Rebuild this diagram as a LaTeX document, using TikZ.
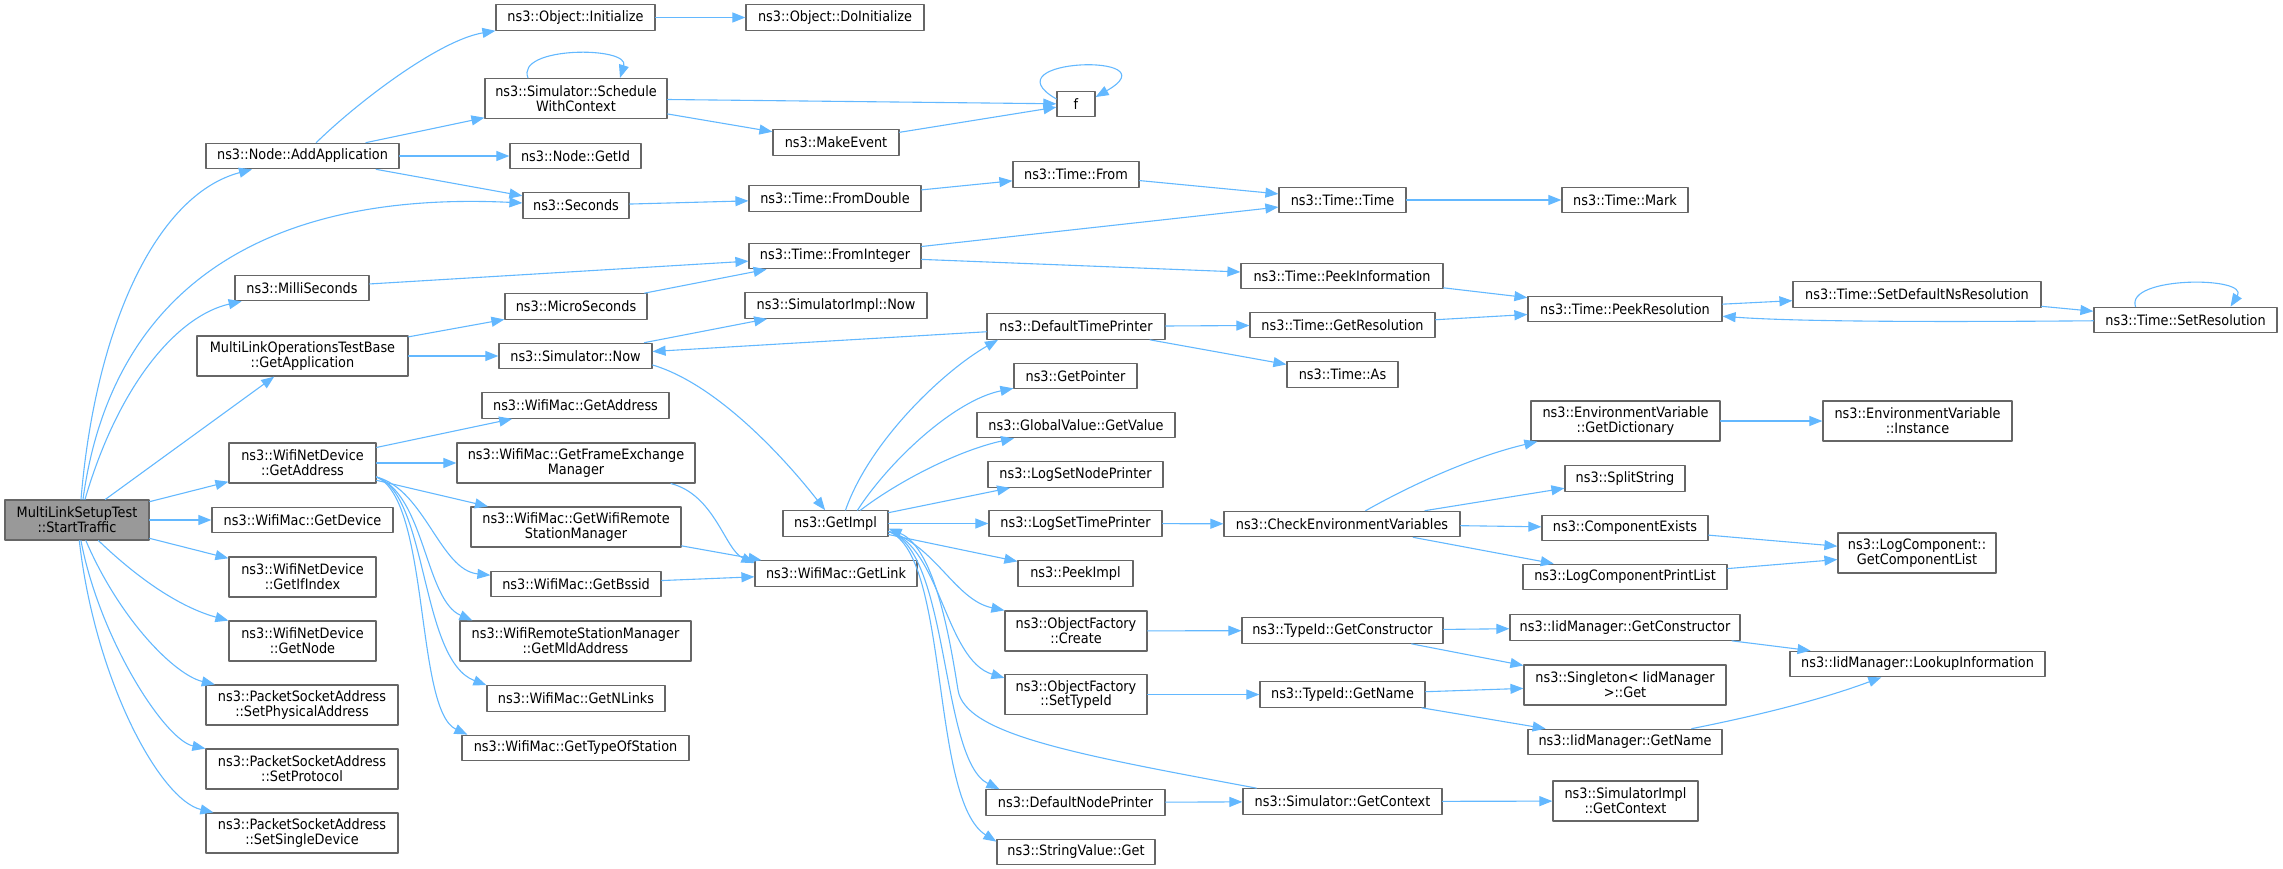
\documentclass[tikz,border=0pt]{standalone}
\usepackage{fontspec}
\setmainfont{DejaVu Sans}[FakeStretch=0.9]
\usetikzlibrary{arrows.meta}
\definecolor{edgeblue}{HTML}{63B8FF}
\definecolor{boxline}{HTML}{666666}
\definecolor{rootgray}{HTML}{999999}
\newcommand{\fnfont}{\fontsize{14.3pt}{14.7pt}\selectfont}
\begin{document}
\begin{tikzpicture}[x=1pt, y=-1pt, line join=round, line cap=round,
  fn/.style={draw=boxline, fill=white, line width=1.2pt, inner sep=0pt,
    minimum height=25.5pt, align=center, font=\fnfont},
  two/.style={minimum height=40pt},
  root/.style={fn, fill=rootgray},
  call/.style={draw=edgeblue, line width=1.1pt, -{Triangle[length=13pt, width=10pt]}}]
\useasboundingbox (0,0) rectangle (2283,869);

% caller and first level
\node[root, two, minimum width=144pt] (st) at (77,520) {MultiLinkSetupTest\\::StartTraffic};
\node[fn, minimum width=193pt] (addapp) at (302.5,156) {ns3::Node::AddApplication};
\node[fn, minimum width=134pt] (milli) at (302,288) {ns3::MilliSeconds};
\node[fn, two, minimum width=211pt] (getapp) at (302.5,356) {MultiLinkOperationsTestBase\\::GetApplication};
\node[fn, two, minimum width=147pt] (ndaddr) at (302.5,463) {ns3::WifiNetDevice\\::GetAddress};
\node[fn, minimum width=181pt] (getdev) at (302.5,520) {ns3::WifiMac::GetDevice};
\node[fn, two, minimum width=147pt] (ifindex) at (302.5,577) {ns3::WifiNetDevice\\::GetIfIndex};
\node[fn, two, minimum width=147pt] (getnode) at (302.5,641) {ns3::WifiNetDevice\\::GetNode};
\node[fn, two, minimum width=192pt] (setphys) at (302,705) {ns3::PacketSocketAddress\\::SetPhysicalAddress};
\node[fn, two, minimum width=192pt] (setproto) at (302,769) {ns3::PacketSocketAddress\\::SetProtocol};
\node[fn, two, minimum width=192pt] (setsingle) at (302,833) {ns3::PacketSocketAddress\\::SetSingleDevice};

% second level
\node[fn, minimum width=159pt] (objinit) at (575.5,17.5) {ns3::Object::Initialize};
\node[fn, two, minimum width=182pt] (sched) at (576,98.5) {ns3::Simulator::Schedule\\WithContext};
\node[fn, minimum width=131pt] (getid) at (575.5,156) {ns3::Node::GetId};
\node[fn, minimum width=106pt] (seconds) at (576,205.5) {ns3::Seconds};
\node[fn, minimum width=142pt] (micro) at (576,306.5) {ns3::MicroSeconds};
\node[fn, minimum width=153pt] (simnow) at (575.5,356) {ns3::Simulator::Now};
\node[fn, minimum width=187pt] (macaddr) at (575.5,405.5) {ns3::WifiMac::GetAddress};
\node[fn, two, minimum width=238pt] (frameex) at (576,463) {ns3::WifiMac::GetFrameExchange\\Manager};
\node[fn, two, minimum width=210pt] (remote) at (576,527) {ns3::WifiMac::GetWifiRemote\\StationManager};
\node[fn, minimum width=170pt] (bssid) at (576,584) {ns3::WifiMac::GetBssid};
\node[fn, two, minimum width=231pt] (mld) at (575.5,641) {ns3::WifiRemoteStationManager\\::GetMldAddress};
\node[fn, minimum width=178pt] (nlinks) at (576,698.5) {ns3::WifiMac::GetNLinks};
\node[fn, minimum width=227pt] (typeofst) at (575.5,748) {ns3::WifiMac::GetTypeOfStation};

% third level
\node[fn, minimum width=178pt] (doinit) at (835,17.5) {ns3::Object::DoInitialize};
\node[fn, minimum width=126pt] (makeev) at (836,142.5) {ns3::MakeEvent};
\node[fn, minimum width=172pt] (fromdouble) at (835,198.5) {ns3::Time::FromDouble};
\node[fn, minimum width=172pt] (fromint) at (835,256) {ns3::Time::FromInteger};
\node[fn, minimum width=182pt] (simimplnow) at (836,305.5) {ns3::SimulatorImpl::Now};
\node[fn, minimum width=105pt] (getimpl) at (835.5,523.5) {ns3::GetImpl};
\node[fn, minimum width=162pt] (getlink) at (836,573.5) {ns3::WifiMac::GetLink};

% fourth level
\node[fn, minimum width=38pt] (f) at (1076,104) {f};
\node[fn, minimum width=126pt] (timefrom) at (1076,174.5) {ns3::Time::From};
\node[fn, minimum width=178pt] (dtp) at (1076,326.5) {ns3::DefaultTimePrinter};
\node[fn, minimum width=123pt] (getpointer) at (1075.5,376) {ns3::GetPointer};
\node[fn, minimum width=198pt] (globalval) at (1076,425) {ns3::GlobalValue::GetValue};
\node[fn, minimum width=175pt] (lognode) at (1075.5,474.5) {ns3::LogSetNodePrinter};
\node[fn, minimum width=173pt] (logtime) at (1075.5,523.5) {ns3::LogSetTimePrinter};
\node[fn, minimum width=115pt] (peekimpl) at (1075.5,573.5) {ns3::PeekImpl};
\node[fn, two, minimum width=142pt] (ofcreate) at (1076,631) {ns3::ObjectFactory\\::Create};
\node[fn, two, minimum width=142pt] (ofsettype) at (1076,694.5) {ns3::ObjectFactory\\::SetTypeId};
\node[fn, minimum width=179pt] (dnp) at (1075.5,802.5) {ns3::DefaultNodePrinter};
\node[fn, minimum width=158pt] (strget) at (1076,852) {ns3::StringValue::Get};

% fifth level
\node[fn, minimum width=127pt] (timetime) at (1342.5,200) {ns3::Time::Time};
\node[fn, minimum width=202pt] (peekinfo) at (1342,276) {ns3::Time::PeekInformation};
\node[fn, minimum width=185pt] (getres) at (1342.5,325) {ns3::Time::GetResolution};
\node[fn, minimum width=111pt] (timeas) at (1342.5,374.5) {ns3::Time::As};
\node[fn, minimum width=236pt] (checkenv) at (1342,524) {ns3::CheckEnvironmentVariables};
\node[fn, minimum width=201pt] (getctor) at (1342.5,630.5) {ns3::TypeId::GetConstructor};
\node[fn, minimum width=165pt] (tidname) at (1342.5,694.5) {ns3::TypeId::GetName};
\node[fn, minimum width=199pt] (simctx) at (1342.5,801.5) {ns3::Simulator::GetContext};

% sixth level
\node[fn, minimum width=126pt] (timemark) at (1625,200) {ns3::Time::Mark};
\node[fn, minimum width=194pt] (peekres) at (1625,309) {ns3::Time::PeekResolution};
\node[fn, two, minimum width=189pt] (getdict) at (1625.5,421) {ns3::EnvironmentVariable\\::GetDictionary};
\node[fn, minimum width=120pt] (splitstr) at (1625,478.5) {ns3::SplitString};
\node[fn, minimum width=166pt] (compexists) at (1625,528) {ns3::ComponentExists};
\node[fn, minimum width=204pt] (logprint) at (1625,577) {ns3::LogComponentPrintList};
\node[fn, minimum width=230pt] (iidctor) at (1625,627.5) {ns3::IidManager::GetConstructor};
\node[fn, two, minimum width=202pt] (singleton) at (1625,685) {ns3::Singleton< IidManager\\>::Get};
\node[fn, minimum width=194pt] (iidname) at (1625,742) {ns3::IidManager::GetName};
\node[fn, two, minimum width=145pt] (simimplctx) at (1625.5,801) {ns3::SimulatorImpl\\::GetContext};

% last levels
\node[fn, minimum width=248pt] (setdefns) at (1917,294.5) {ns3::Time::SetDefaultNsResolution};
\node[fn, two, minimum width=189pt] (envinst) at (1917.5,421) {ns3::EnvironmentVariable\\::Instance};
\node[fn, two, minimum width=158pt] (loggetlist) at (1917,553) {ns3::LogComponent::\\GetComponentList};
\node[fn, minimum width=255pt] (lookup) at (1917.5,664) {ns3::IidManager::LookupInformation};
\node[fn, minimum width=183pt] (setres) at (2185.5,320) {ns3::Time::SetResolution};

% straight calls
\foreach \a/\b in {st/getapp, st/ndaddr, st/getdev, st/ifindex,
    addapp/sched, addapp/getid, addapp/seconds,
    objinit/doinit, sched/f, sched/makeev, makeev/f,
    seconds/fromdouble, fromdouble/timefrom, timefrom/timetime, timetime/timemark,
    milli/fromint, micro/fromint, fromint/timetime, fromint/peekinfo, peekinfo/peekres,
    getapp/micro, getapp/simnow, simnow/simimplnow,
    dtp/simnow, dtp/getres, dtp/timeas, getres/peekres, peekres/setdefns, setdefns/setres,
    ndaddr/macaddr, ndaddr/frameex, ndaddr/remote, remote/getlink, bssid/getlink,
    getimpl/lognode, getimpl/logtime, getimpl/peekimpl,
    dnp/simctx, simctx/simimplctx, logtime/checkenv,
    checkenv/splitstr, checkenv/compexists, checkenv/logprint, getdict/envinst,
    compexists/loggetlist, logprint/loggetlist,
    ofcreate/getctor, ofsettype/tidname, getctor/iidctor, getctor/singleton,
    tidname/singleton, tidname/iidname, iidctor/lookup}
    \draw[call] (\a) -- (\b);

% curved calls
\draw[call] ([xshift=4pt]st.north) .. controls (95,330) and (155,195) .. (addapp);
\draw[call] ([xshift=6pt]st.north) .. controls (110,300) and (250,190) .. (seconds);
\draw[call] ([xshift=8pt]st.north) .. controls (120,380) and (180,315) .. (milli);
\draw[call] (st) .. controls (150,590) and (190,610) .. (getnode);
\draw[call] (st) .. controls (120,620) and (175,675) .. (setphys);
\draw[call] (st) .. controls (100,640) and (165,740) .. (setproto);
\draw[call] (st) .. controls (95,680) and (160,800) .. (setsingle);
\draw[call] (addapp) .. controls (360,100) and (440,40) .. (objinit);
\draw[call] ([xshift=-48pt]sched.north) .. controls (515,46) and (630,46) .. ([xshift=44pt]sched.north);
\draw[call] ([yshift=5pt]f.west) .. controls (985,58) and (1175,52) .. ([yshift=7pt]f.east);
\draw[call] ([yshift=-9pt]simnow.east) .. controls (720,385) and (790,465) .. (getimpl);
\draw[call] (setres) .. controls (1950,322) and (1800,322) .. (peekres);
\draw[call] ([xshift=-50pt]setres.north) .. controls (2125,276) and (2250,276) .. ([xshift=45pt]setres.north);
\draw[call] ([yshift=-14pt]ndaddr.east) .. controls (425,490) and (440,570) .. (bssid);
\draw[call] ([yshift=-14pt]ndaddr.east) .. controls (425,495) and (425,600) .. ([xshift=13pt]mld.north west);
\draw[call] ([yshift=-14pt]ndaddr.east) .. controls (428,495) and (420,660) .. (nlinks.north west);
\draw[call] ([yshift=-14pt]ndaddr.east) .. controls (430,500) and (415,710) .. ([xshift=6pt]typeofst.north west);
\draw[call] ([xshift=95pt]frameex.south) .. controls (715,495) and (725,550) .. ([yshift=-3pt]getlink.north west);
\draw[call] ([xshift=10pt]getimpl.north) .. controls (870,440) and (945,370) .. ([xshift=-78pt]dtp.south);
\draw[call] ([xshift=22pt]getimpl.north) .. controls (890,460) and (955,400) .. (getpointer);
\draw[call] ([xshift=25pt]getimpl.north) .. controls (900,480) and (960,450) .. (globalval);
\draw[call] ([yshift=-8pt]getimpl.east) .. controls (935,545) and (955,600) .. (ofcreate.north west);
\draw[call] ([yshift=-8pt]getimpl.east) .. controls (940,545) and (945,660) .. ([yshift=-4pt]ofsettype.north west);
\draw[call] ([yshift=-8pt]getimpl.east) .. controls (950,550) and (940,760) .. ([xshift=14pt]dnp.north west);
\draw[call] ([yshift=-8pt]getimpl.east) .. controls (950,555) and (930,800) .. ([yshift=-3pt]strget.north west);
\draw[call] ([xshift=-86pt]simctx.north) .. controls (1080,755) and (965,735) .. (958,690)
    .. controls (950,640) and (935,548) .. ([yshift=-5pt]getimpl.east);
\draw[call] (checkenv) .. controls (1420,480) and (1480,455) .. (getdict);
\draw[call] (iidname) .. controls (1760,715) and (1820,700) .. (lookup);
\end{tikzpicture}
\end{document}
